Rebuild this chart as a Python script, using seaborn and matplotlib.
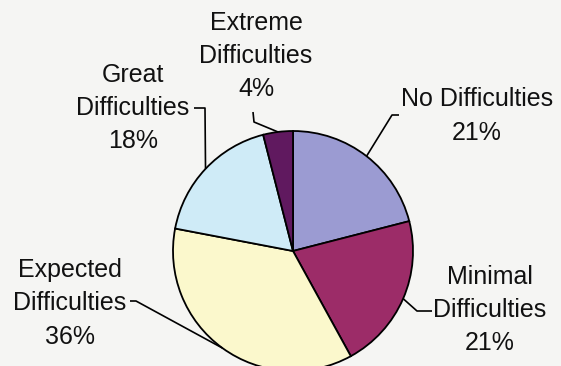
import numpy as np
import seaborn as sns
import matplotlib.pyplot as plt

# slice data, clockwise from 12 o'clock
categories = ['No Difficulties', 'Minimal\nDifficulties', 'Expected\nDifficulties',
              'Great\nDifficulties', 'Extreme\nDifficulties']
shares = [21, 21, 36, 18, 4]
pct_labels = ['21%', '21%', '36%', '18%', '4%']
colors = ['#9B9BD2', '#9C2C68', '#FBF8CC', '#CFEBF7', '#60195F']

sns.set_theme(style='white')
plt.rcParams['font.family'] = ['Liberation Sans', 'DejaVu Sans']

W, H = 561, 366
bg = '#F5F5F3'
fig = plt.figure(figsize=(W / 100, H / 100), dpi=100, facecolor=bg)
ax = fig.add_axes([0, 0, 1, 1])
ax.set_facecolor(bg)

cx, cy, r = 293, H - 251, 120
wedges, _ = ax.pie(shares, colors=colors, startangle=90, counterclock=False,
                   center=(cx, cy), radius=r, frame=True,
                   wedgeprops=dict(edgecolor='black', linewidth=1.3))
ax.set_xlim(0, W)
ax.set_ylim(0, H)
ax.set_aspect('equal')
ax.axis('off')

# label block centre (px from top-left) and leader elbow / end points
label_pos = [(477, 116), (490, 310), (70, 303), (133, 108), (256, 56)]
leaders = [[(392, 115), (399, 115)],
           [(417, 311), (432, 311)],
           [(136, 301), (130, 301)],
           [(205, 108), (194, 108)],
           [(254, 122), (253, 112)]]

for w, cat, pct, (lx, ly), pts in zip(wedges, categories, pct_labels, label_pos, leaders):
    mid = np.deg2rad((w.theta1 + w.theta2) / 2)
    ex, ey = cx + r * np.cos(mid), cy + r * np.sin(mid)
    xs = [ex] + [p[0] for p in pts]
    ys = [ey] + [H - p[1] for p in pts]
    ax.plot(xs, ys, color='black', lw=1.2, solid_capstyle='butt', zorder=1)
    ax.text(lx, H - ly, f'{cat}\n{pct}', ha='center', va='center',
            fontsize=18, linespacing=1.5, color='#111111')

fig.savefig('out.png', dpi=100, facecolor=bg)
